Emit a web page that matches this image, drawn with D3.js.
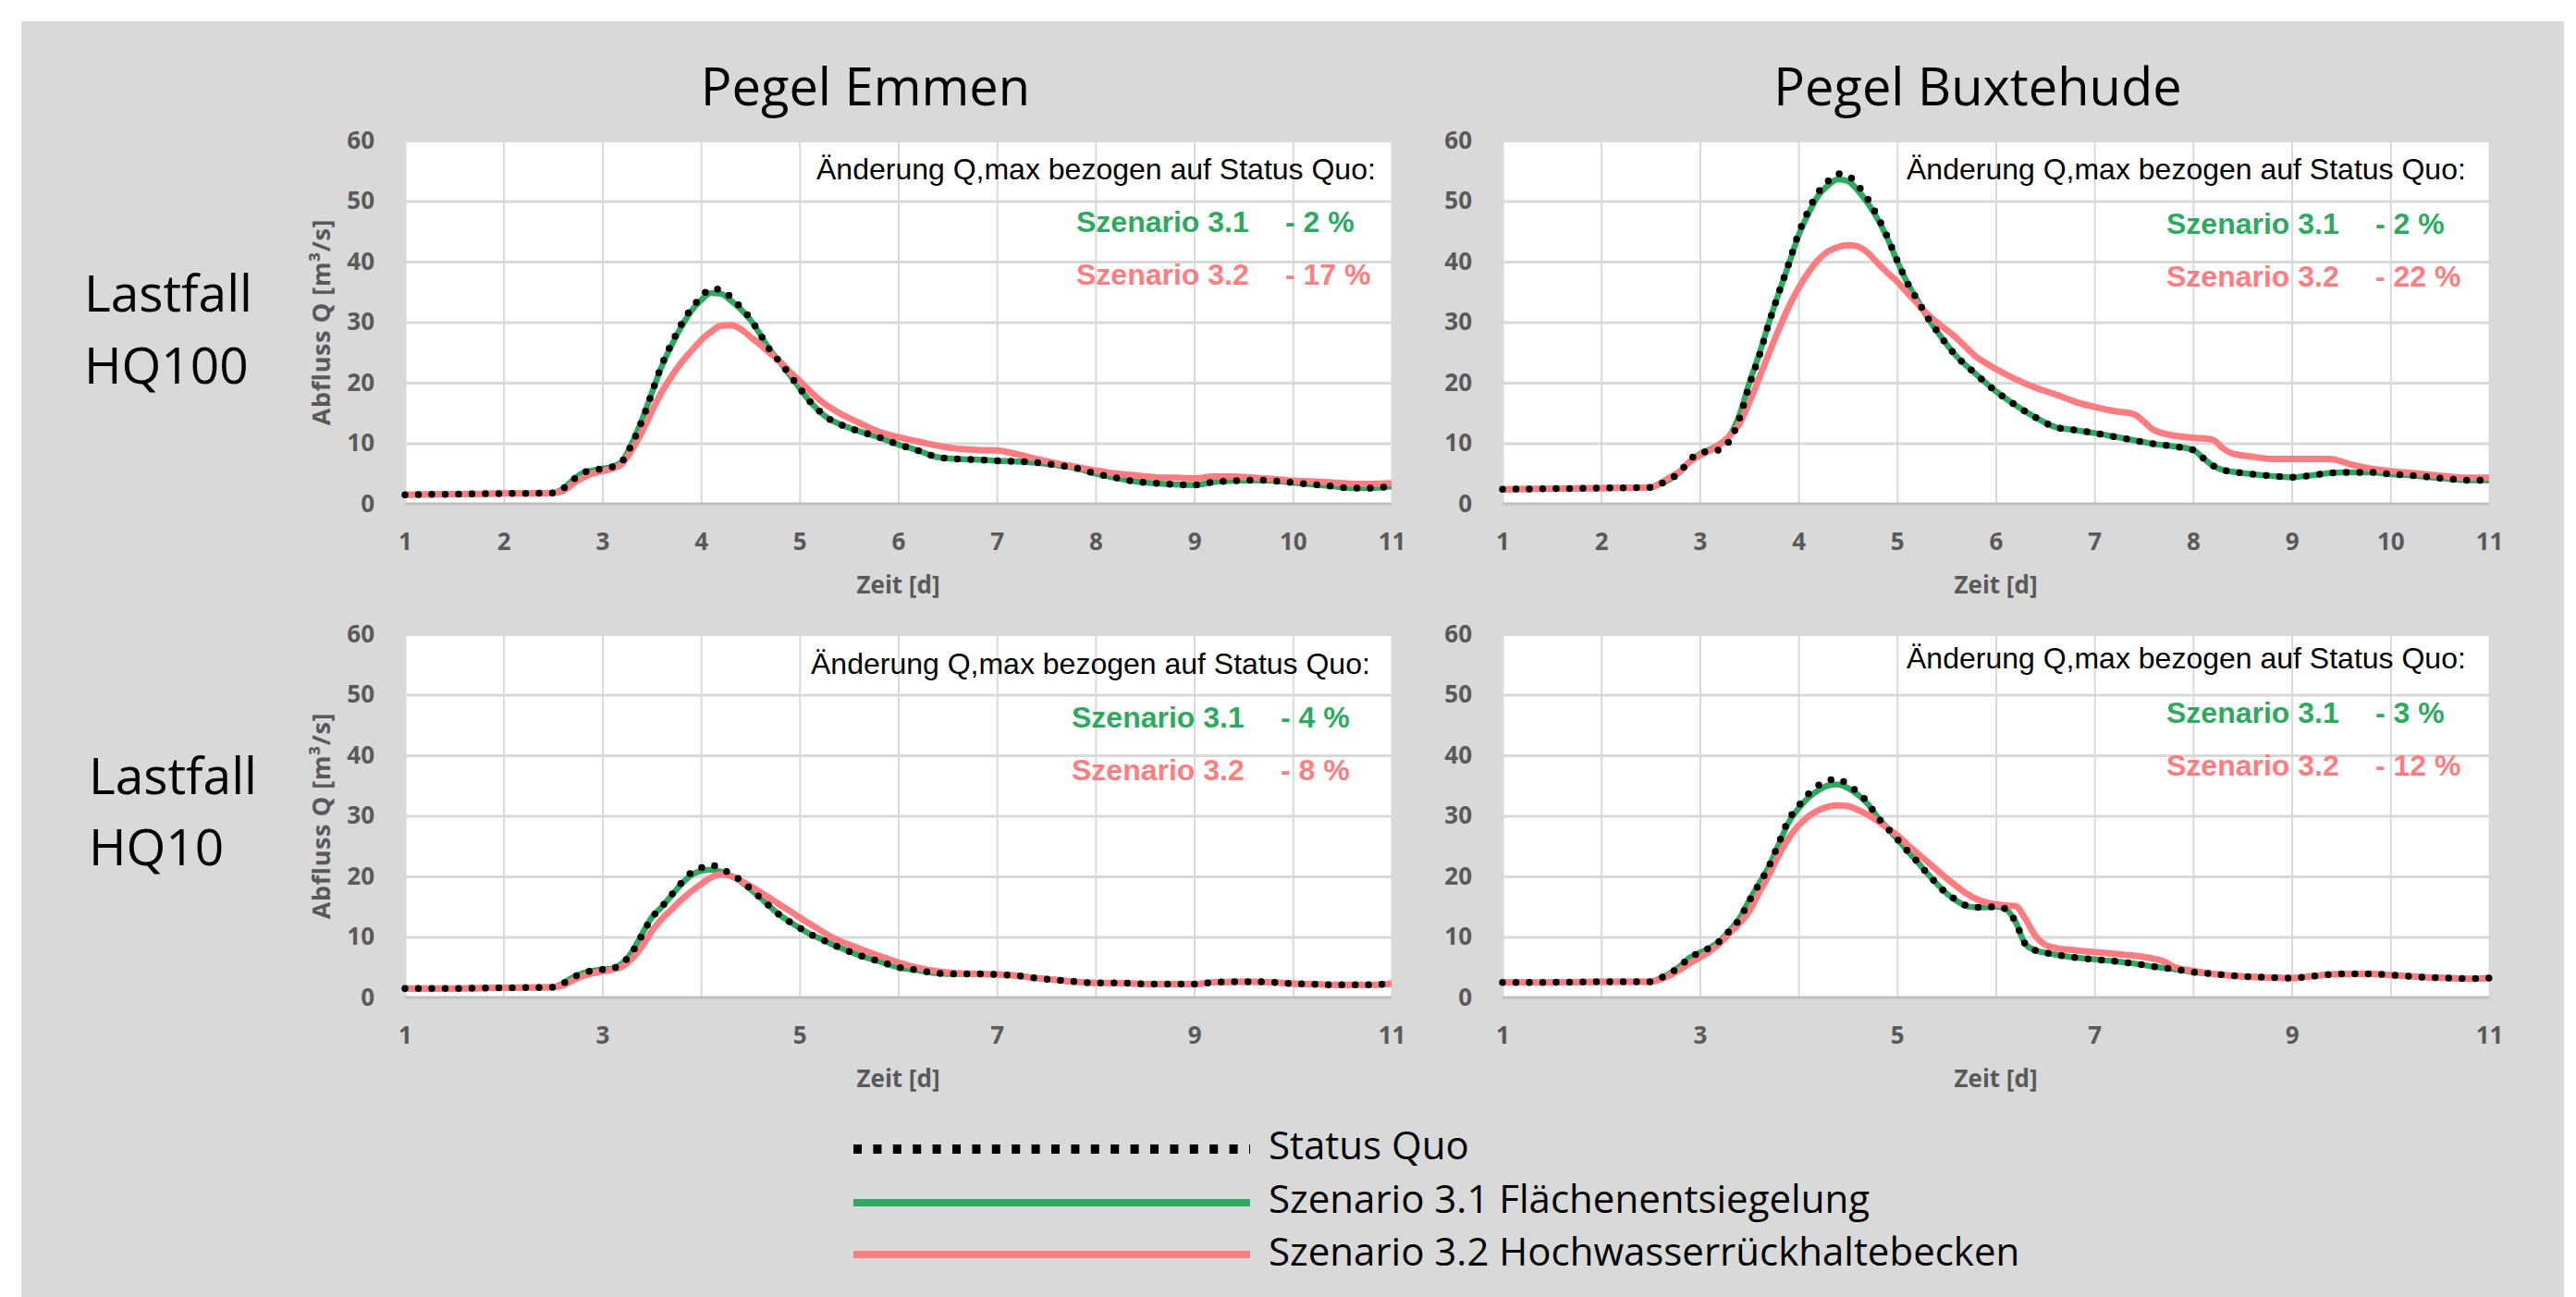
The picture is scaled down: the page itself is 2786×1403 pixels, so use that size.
<!DOCTYPE html>
<html><head><meta charset="utf-8">
<script src="https://cdn.jsdelivr.net/npm/d3@7"></script>
<style>html,body{margin:0;padding:0;background:#fff}svg{display:block}</style>
</head><body>
<script>
// ---------------- DATA ----------------
const panelTitles = ["Pegel Emmen", "Pegel Buxtehude"];
const caseLabels = [["Lastfall", "HQ100"], ["Lastfall", "HQ10"]];
const seriesNames = ["Status Quo", "Szenario 3.1 Flächenentsiegelung", "Szenario 3.2 Hochwasserrückhaltebecken"];
const yTicks = [0, 10, 20, 30, 40, 50, 60];
const xTicksHQ100 = [1, 2, 3, 4, 5, 6, 7, 8, 9, 10, 11];
const xTicksHQ10 = [1, 3, 5, 7, 9, 11];
const annHeader = "Änderung Q,max bezogen auf Status Quo:";
const annNames = ["Szenario 3.1", "Szenario 3.2"];
const pct31 = ["- 2 %", "- 2 %", "- 4 %", "- 3 %"];
const pct32 = ["- 17 %", "- 22 %", "- 8 %", "- 12 %"];

// Emmen HQ100 / Emmen HQ10 time grid [d]
const tEmmen = [1,1.5,2,2.5,
 2.6,2.7,2.8,2.9,3.0,3.1,3.2,3.3,3.4,3.5,3.6,3.7,3.8,3.9,4.0,4.1,4.2,4.3,4.4,4.5,4.6,4.7,4.8,4.9,5.0,5.1,5.2,5.3,5.4,
 5.6,5.8,6.0,6.2,6.4,6.6,6.8,7.0,7.2,7.4,7.6,7.8,8.0,8.2,8.4,8.6,8.8,9.0,9.2,9.4,9.6,9.8,10.0,10.2,10.4,10.6,10.8,11.0];

const emmenHQ100_sq = [1.5,1.6,1.7,1.8,
 2.5,3.9,5.1,5.5,5.8,6.1,7.0,9.9,13.6,18.2,22.8,26.4,29.6,32.2,34.1,35.5,35.4,34.2,32.5,30.6,28.0,25.4,23.4,21.3,19.1,17.0,15.3,14.0,13.2,
 12.0,11.0,9.8,8.8,7.7,7.4,7.3,7.1,7.0,6.8,6.4,5.9,5.0,4.3,3.7,3.4,3.2,3.1,3.6,3.8,3.9,3.8,3.5,3.2,2.9,2.6,2.6,2.9];
const emmenHQ100_s31 = [1.5,1.6,1.7,1.8,
 2.5,3.9,5.1,5.5,5.8,6.1,7.0,10.0,13.8,18.2,22.6,26.1,29.2,31.8,33.6,34.8,34.7,33.6,32.2,30.4,28.0,25.4,23.4,21.3,19.1,17.0,15.3,14.0,13.2,
 12.0,11.0,9.8,8.8,7.7,7.4,7.3,7.1,7.0,6.8,6.4,5.9,5.0,4.3,3.7,3.4,3.2,3.1,3.6,3.8,3.9,3.8,3.5,3.2,2.9,2.6,2.6,2.9];
const emmenHQ100_s32 = [1.5,1.6,1.7,1.8,
 2.1,3.3,4.3,5.0,5.4,5.8,6.6,8.9,11.8,15.2,18.4,21.0,23.3,25.2,27.0,28.4,29.4,29.5,28.9,27.6,26.3,24.9,23.5,21.8,20.3,18.7,17.2,16.0,15.0,
 13.4,11.9,11.0,10.3,9.6,9.1,8.9,8.8,8.2,7.4,6.7,6.1,5.5,5.0,4.7,4.4,4.3,4.2,4.5,4.5,4.3,4.1,3.8,3.7,3.5,3.3,3.3,3.4];

const emmenHQ10_sq = [1.5,1.5,1.6,1.7,
 2.3,3.3,4.0,4.4,4.6,4.8,5.6,7.4,10.2,13.1,14.9,16.9,18.9,20.6,21.4,21.9,21.3,20.4,19.4,18.0,16.5,15.0,13.6,12.5,11.5,10.5,9.8,9.0,8.3,
 7.0,6.0,5.0,4.5,4.0,3.9,3.9,3.8,3.6,3.2,2.9,2.6,2.4,2.4,2.3,2.2,2.2,2.2,2.5,2.6,2.6,2.5,2.3,2.2,2.1,2.1,2.1,2.3];
const emmenHQ10_s31 = [1.5,1.5,1.6,1.7,
 2.3,3.3,4.0,4.4,4.6,4.8,5.6,7.5,10.4,13.2,14.9,16.8,18.7,20.2,20.9,21.1,20.8,20.1,19.2,17.9,16.5,15.0,13.6,12.5,11.5,10.5,9.8,9.0,8.3,
 7.0,6.0,5.0,4.5,4.0,3.9,3.9,3.8,3.6,3.2,2.9,2.6,2.4,2.4,2.3,2.2,2.2,2.2,2.5,2.6,2.6,2.5,2.3,2.2,2.1,2.1,2.1,2.3];
const emmenHQ10_s32 = [1.5,1.5,1.6,1.7,
 2.0,2.8,3.5,4.0,4.3,4.6,5.1,6.4,8.4,10.9,12.9,14.5,16.1,17.5,18.7,19.8,20.3,20.1,19.3,18.4,17.4,16.4,15.3,14.3,13.2,12.2,11.2,10.2,9.4,
 8.1,6.9,5.8,4.9,4.3,4.0,3.9,3.8,3.6,3.2,2.9,2.6,2.4,2.4,2.3,2.2,2.2,2.2,2.5,2.6,2.6,2.5,2.3,2.2,2.1,2.1,2.1,2.3];

// Buxtehude HQ100 time grid [d]
const tBuxHQ100 = [1,1.5,2,2.5,
 2.6,2.7,2.8,2.9,3.0,3.1,3.2,3.3,3.4,3.5,3.6,3.7,3.8,3.9,4.0,4.1,4.2,4.3,4.4,4.5,4.6,4.7,4.8,4.9,5.0,5.1,5.2,5.3,5.4,
 5.6,5.8,6.0,6.2,6.4,6.6,6.8,7.0,7.2,7.4,7.5,7.6,7.8,8.0,8.1,8.2,8.3,8.4,8.6,8.8,9.0,9.2,9.4,9.5,9.6,9.8,10.0,10.2,10.4,10.6,10.8,11.0];
const buxHQ100_sq = [2.4,2.5,2.6,2.7,
 3.3,4.1,5.3,7.3,8.4,8.7,8.9,10.4,14.0,19.5,24.3,29.8,34.8,39.6,44.6,48.4,51.4,53.3,54.5,54.2,52.6,50.4,47.5,44.1,40.2,36.6,33.8,31.0,28.6,
 24.4,21.4,18.6,16.3,14.3,12.7,12.2,11.7,11.1,10.5,10.2,9.9,9.5,8.9,7.6,6.3,5.6,5.3,4.9,4.6,4.4,4.7,5.1,5.2,5.2,5.2,4.9,4.7,4.4,4.1,3.9,3.9];
const buxHQ100_s31 = [2.4,2.5,2.6,2.7,
 3.3,4.1,5.3,7.0,8.2,9.0,9.8,11.2,14.6,19.9,24.6,29.9,34.8,39.5,44.3,47.9,50.9,52.6,53.6,53.3,51.8,49.7,47.1,43.9,40.1,36.6,33.8,31.0,28.6,
 24.4,21.4,18.6,16.3,14.3,12.7,12.2,11.7,11.1,10.5,10.2,9.9,9.5,8.9,7.6,6.3,5.6,5.3,4.9,4.6,4.4,4.7,5.1,5.2,5.2,5.2,4.9,4.7,4.4,4.1,3.9,3.9];
const buxHQ100_s32 = [2.4,2.5,2.6,2.7,
 3.4,4.4,5.4,7.0,8.0,8.8,9.8,11.2,13.2,16.7,20.7,24.8,28.8,32.5,35.6,38.2,40.3,41.7,42.4,42.7,42.5,41.5,39.8,38.2,36.7,34.9,33.2,31.4,30.0,
 27.4,24.3,22.3,20.6,19.2,18.1,16.9,16.0,15.3,14.8,13.6,12.2,11.3,10.9,10.8,10.6,9.2,8.3,7.8,7.4,7.4,7.4,7.4,7.0,6.5,5.8,5.4,5.1,4.8,4.5,4.3,4.3];

// Buxtehude HQ10 time grid [d]
const tBuxHQ10 = [1,1.5,2,2.5,
 2.6,2.7,2.8,2.9,3.0,3.1,3.2,3.3,3.4,3.5,3.6,3.7,3.8,3.9,4.0,4.1,4.2,4.3,4.4,4.5,4.6,4.7,4.8,4.9,5.0,5.1,5.2,5.3,5.4,5.5,
 5.6,5.7,5.8,5.9,6.0,6.1,6.2,6.3,6.4,6.5,6.6,
 6.8,7.0,7.2,7.4,7.6,7.7,7.8,8.0,8.2,8.4,8.6,8.8,9.0,9.2,9.4,9.6,9.8,10.0,10.2,10.4,10.6,10.8,11.0];
const buxHQ10_sq = [2.5,2.5,2.6,2.6,
 3.2,4.0,5.2,6.6,7.4,8.2,9.3,11.0,12.9,15.9,18.7,21.6,25.5,29.3,31.6,33.6,35.0,35.8,36.1,35.1,33.9,32.2,29.8,28.0,26.2,24.3,22.5,20.6,18.8,17.2,
 16.1,15.2,14.9,14.9,15.0,14.6,12.5,8.8,7.8,7.4,7.1,
 6.6,6.3,6.0,5.6,5.1,4.9,4.7,4.2,3.9,3.6,3.4,3.3,3.2,3.5,3.8,3.9,3.9,3.7,3.5,3.3,3.2,3.1,3.2];
const buxHQ10_s31 = [2.5,2.5,2.6,2.6,
 3.2,4.0,5.2,6.6,7.4,8.2,9.3,11.0,13.0,16.0,18.8,21.6,25.3,28.9,31.2,33.0,34.2,35.0,35.2,34.6,33.5,32.0,29.8,28.0,26.2,24.3,22.5,20.6,18.8,17.2,
 16.0,15.1,14.9,14.9,15.0,14.6,12.5,8.8,7.8,7.4,7.1,
 6.6,6.3,6.0,5.6,5.1,4.9,4.7,4.2,3.9,3.6,3.4,3.3,3.2,3.5,3.8,3.9,3.9,3.7,3.5,3.3,3.2,3.1,3.2];
const buxHQ10_s32 = [2.5,2.5,2.6,2.6,
 3.0,3.7,4.6,5.7,6.6,7.6,8.9,10.6,12.2,14.2,17.3,20.2,23.5,26.3,28.4,29.9,30.9,31.5,31.7,31.6,31.0,30.2,29.2,28.0,26.8,25.3,23.9,22.5,21.1,19.7,
 18.4,17.2,16.3,15.7,15.4,15.2,15.1,13.0,10.2,8.7,8.2,
 7.8,7.5,7.2,6.9,6.4,6.0,5.1,4.4,3.9,3.6,3.4,3.3,3.2,3.5,3.8,3.9,3.9,3.7,3.5,3.3,3.2,3.1,3.2];

// ---------------- STYLE / LAYOUT ----------------
const W = 2786, H = 1403;
const GREEN = "#2DAA5F", PINK = "#FF7C80", AXIS_GRAY = "#595959", GRID = "#D9D9D9";
const CAL = "'Open Sans', 'Noto Sans', sans-serif";
const ARIAL = "'Liberation Sans', Arial, sans-serif";

const svg = d3.select("body").append("svg").attr("width", W).attr("height", H);
svg.append("rect").attr("x", 0).attr("y", 0).attr("width", W).attr("height", H).attr("fill", "#fff");
svg.append("rect").attr("x", 23).attr("y", 23).attr("width", 2750).attr("height", H - 23).attr("fill", "#D9D9D9");

const panels = [
  {t: tEmmen, sq: emmenHQ100_sq, s31: emmenHQ100_s31, s32: emmenHQ100_s32, x0: 438, x1: 1505, y0: 152, y1: 545, xt: xTicksHQ100, yTitle: true, a: [42, 99, 156], ax: [445, 726, 952], i: 0},
  {t: tBuxHQ100, sq: buxHQ100_sq, s31: buxHQ100_s31, s32: buxHQ100_s32, x0: 1625, x1: 2692, y0: 152, y1: 545, xt: xTicksHQ100, yTitle: false, a: [42, 101, 158], ax: [437, 718, 944], i: 1},
  {t: tEmmen, sq: emmenHQ10_sq, s31: emmenHQ10_s31, s32: emmenHQ10_s32, x0: 438, x1: 1505, y0: 686, y1: 1079, xt: xTicksHQ10, yTitle: true, a: [43, 101, 158], ax: [439, 721, 947], i: 2},
  {t: tBuxHQ10, sq: buxHQ10_sq, s31: buxHQ10_s31, s32: buxHQ10_s32, x0: 1625, x1: 2692, y0: 686, y1: 1079, xt: xTicksHQ10, yTitle: false, a: [37, 96, 153], ax: [437, 718, 944], i: 3}
];

panels.forEach(p => {
  const x = d3.scaleLinear().domain([1, 11]).range([p.x0, p.x1]);
  const y = d3.scaleLinear().domain([0, 60]).range([p.y1, p.y0]);
  const g = svg.append("g");
  g.append("rect").attr("x", p.x0).attr("y", p.y0).attr("width", p.x1 - p.x0).attr("height", p.y1 - p.y0).attr("fill", "#fff");

  const vg = g.append("g").attr("transform", `translate(0,${p.y1})`)
    .call(d3.axisBottom(x).tickValues(d3.range(1, 12)).tickSize(-(p.y1 - p.y0)).tickFormat(""));
  vg.select(".domain").remove();
  vg.selectAll("line").attr("stroke", GRID).attr("stroke-width", 2);

  const hg = g.append("g").attr("transform", `translate(${p.x0},0)`)
    .call(d3.axisLeft(y).tickValues(yTicks.filter(v => v > 0)).tickSize(-(p.x1 - p.x0)).tickFormat(""));
  hg.select(".domain").remove();
  hg.selectAll("line").attr("stroke", GRID).attr("stroke-width", 3);

  g.append("line").attr("x1", p.x0).attr("x2", p.x1).attr("y1", y(0)).attr("y2", y(0))
    .attr("stroke", "#BFBFBF").attr("stroke-width", 3);

  const ya = g.append("g").attr("transform", `translate(${p.x0},0)`)
    .call(d3.axisLeft(y).tickValues(yTicks).tickSize(0).tickPadding(33));
  ya.select(".domain").remove();
  ya.selectAll("text").attr("font-family", CAL).attr("font-weight", 700).attr("font-size", 26).attr("fill", AXIS_GRAY);

  const xa = g.append("g").attr("transform", `translate(0,${p.y1})`)
    .call(d3.axisBottom(x).tickValues(p.xt).tickSize(0).tickPadding(32).tickFormat(d3.format("d")));
  xa.select(".domain").remove();
  xa.selectAll("text").attr("font-family", CAL).attr("font-weight", 700).attr("font-size", 26).attr("fill", AXIS_GRAY);

  g.append("text").attr("x", (p.x0 + p.x1) / 2).attr("y", p.y1 + 97).attr("text-anchor", "middle")
    .attr("font-family", CAL).attr("font-weight", 700).attr("font-size", 26).attr("fill", AXIS_GRAY).text("Zeit [d]");

  if (p.yTitle) {
    const cy = (p.y0 + p.y1) / 2;
    g.append("text").attr("transform", `translate(357,${cy}) rotate(-90)`).attr("text-anchor", "middle")
      .attr("font-family", CAL).attr("font-weight", 700).attr("font-size", 27).attr("letter-spacing", 0.6)
      .attr("fill", AXIS_GRAY).text("Abfluss Q [m³/s]");
  }

  const pts = arr => p.t.map((tt, k) => [tt, arr[k]]);
  const line = d3.line().x(d => x(d[0])).y(d => y(d[1])).curve(d3.curveMonotoneX);
  g.append("path").attr("d", line(pts(p.s31))).attr("fill", "none").attr("stroke", GREEN)
    .attr("stroke-width", 6.5).attr("stroke-linejoin", "round");
  g.append("path").attr("d", line(pts(p.s32))).attr("fill", "none").attr("stroke", PINK)
    .attr("stroke-width", 7).attr("stroke-linejoin", "round");
  g.append("path").attr("d", line(pts(p.sq))).attr("fill", "none").attr("stroke", "#000")
    .attr("stroke-width", 7.5).attr("stroke-linecap", "round").attr("stroke-dasharray", "0 14.5");

  g.append("text").attr("x", p.x0 + p.ax[0]).attr("y", p.y0 + p.a[0])
    .attr("font-family", ARIAL).attr("font-size", 32).attr("fill", "#000").text(annHeader);
  [[annNames[0], pct31[p.i], GREEN, p.a[1]], [annNames[1], pct32[p.i], PINK, p.a[2]]].forEach(r => {
    g.append("text").attr("x", p.x0 + p.ax[1]).attr("y", p.y0 + r[3])
      .attr("font-family", ARIAL).attr("font-weight", 700).attr("font-size", 32).attr("fill", r[2]).text(r[0]);
    g.append("text").attr("x", p.x0 + p.ax[2]).attr("y", p.y0 + r[3])
      .attr("font-family", ARIAL).attr("font-weight", 700).attr("font-size", 32).attr("fill", r[2]).text(r[1]);
  });
});

[[panelTitles[0], 936], [panelTitles[1], 2139]].forEach(d => {
  svg.append("text").attr("x", d[1]).attr("y", 114).attr("text-anchor", "middle")
    .attr("font-family", CAL).attr("font-size", 56).attr("fill", "#000").text(d[0]);
});

[[caseLabels[0], 91, 337, 415], [caseLabels[1], 96, 859, 936]].forEach(d => {
  svg.append("text").attr("x", d[1]).attr("y", d[2]).attr("font-family", CAL).attr("font-size", 55).attr("fill", "#000").text(d[0][0]);
  svg.append("text").attr("x", d[1]).attr("y", d[3]).attr("font-family", CAL).attr("font-size", 55).attr("fill", "#000").text(d[0][1]);
});

const lg = svg.append("g");
const legRows = [
  {name: seriesNames[0], cy: 1243, base: 1254, color: "#000", w: 10, dash: "9 12.4"},
  {name: seriesNames[1], cy: 1301, base: 1312, color: GREEN, w: 8, dash: null},
  {name: seriesNames[2], cy: 1357, base: 1369, color: PINK, w: 8, dash: null}
];
legRows.forEach(r => {
  const l = lg.append("line").attr("x1", 923).attr("x2", 1352).attr("y1", r.cy).attr("y2", r.cy)
    .attr("stroke", r.color).attr("stroke-width", r.w);
  if (r.dash) l.attr("stroke-dasharray", r.dash);
  lg.append("text").attr("x", 1372).attr("y", r.base).attr("font-family", CAL).attr("font-size", 42)
    .attr("fill", "#000").text(r.name);
});
</script>
</body></html>
